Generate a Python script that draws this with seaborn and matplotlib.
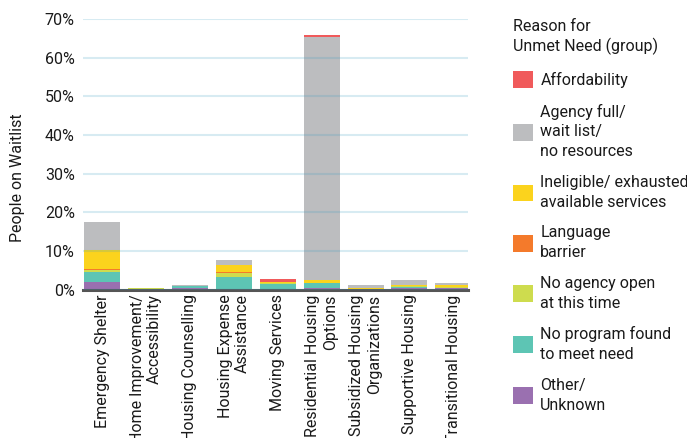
import numpy as np
import pandas as pd
import matplotlib
matplotlib.use("Agg")
import matplotlib.pyplot as plt
import seaborn as sns
from matplotlib.patches import Patch
from matplotlib.ticker import PercentFormatter

sns.set_style("white")
plt.rcParams['font.family'] = ['Roboto', 'DejaVu Sans']

# %% data (share of people on waitlist, %)
services = ['Emergency Shelter', 'Home Improvement/\nAccessibility', 'Housing Counselling',
            'Housing Expense\nAssistance', 'Moving Services', 'Residential Housing\nOptions',
            'Subsidized Housing\nOrganizations', 'Supportive Housing', 'Transitional Housing']

other_unknown   = [2.0, 0.0, 0.5, 0.1, 0.0, 0.4, 0.0, 0.35, 0.3]
no_program      = [2.5, 0.0, 0.4, 3.1, 1.5, 1.2, 0.0, 0.25, 0.2]
no_agency_open  = [0.6, 0.4, 0.0, 1.1, 0.2, 0.1, 0.0, 0.3, 0.25]
language        = [0.1, 0.0, 0.0, 0.3, 0.0, 0.0, 0.0, 0.0, 0.0]
ineligible      = [5.1, 0.0, 0.0, 1.7, 0.2, 0.7, 0.35, 0.3, 0.3]
agency_full     = [7.3, 0.0, 0.2, 1.3, 0.0, 63.0, 0.7, 1.3, 0.6]
affordability   = [0.0, 0.0, 0.0, 0.0, 0.8, 0.4, 0.0, 0.0, 0.0]

reasons = ['Affordability', 'Agency full/\nwait list/\nno resources',
           'Ineligible/ exhausted\navailable services', 'Language\nbarrier',
           'No agency open\nat this time', 'No program found\nto meet need', 'Other/\nUnknown']
colors = ['#f05a5b', '#bcbdbf', '#fbd31d', '#f47a2b', '#cedc4e', '#5dc5b4', '#9a70b0']

# stacked bottom -> top
stack = [other_unknown, no_program, no_agency_open, language, ineligible, agency_full, affordability]
stack_colors = colors[::-1]

# %% plot
fig = plt.figure(figsize=(6.87, 4.38), dpi=100)
ax = fig.add_axes([0.121, 0.339, 0.560, 0.617])

bottom = np.zeros(len(services))
for vals, col in zip(stack, stack_colors):
    vals = np.array(vals)
    sns.barplot(x=services, y=vals, bottom=bottom, color=col, width=0.82,
                saturation=1, ax=ax, linewidth=0)
    bottom += vals

ax.set_ylim(0, 70)
ax.set_xlim(-0.43, 8.33)
ax.set_yticks(range(0, 71, 10))
ax.yaxis.set_major_formatter(PercentFormatter(decimals=0))
ax.grid(axis='y', color='#3a9ec0', alpha=0.2, linewidth=1.5)
ax.set_axisbelow(False)
for s in ['top', 'right', 'left']:
    ax.spines[s].set_visible(False)
ax.spines['bottom'].set_color('#555555')
ax.spines['bottom'].set_linewidth(2.2)
ax.tick_params(axis='both', length=0, labelsize=11.5, colors='#1a1a1a')
ax.tick_params(axis='y', pad=6)
ax.set_xticks(range(len(services)))
ax.set_xticklabels(services, rotation=90, ha='center', va='top', multialignment='right')
ax.set_xlabel('')
ax.set_ylabel('People on Waitlist', fontsize=11.5, color='#1a1a1a')
ax.yaxis.set_label_coords(-0.152, 0.413)

handles = [Patch(facecolor=c, edgecolor='none') for c in colors]
leg = fig.legend(handles, reasons, title='Reason for\nUnmet Need (group)',
                 loc='upper left', bbox_to_anchor=(0.726, 0.989), frameon=False,
                 fontsize=11.5, title_fontsize=11.5, handlelength=1.25, handleheight=1.25,
                 labelspacing=0.98, handletextpad=0.45, alignment='left')
for t in leg.get_texts():
    t.set_color('#1a1a1a')
    t.set_linespacing(1.4)
leg.get_title().set_color('#1a1a1a')
leg.get_title().set_linespacing(1.3)

fig.savefig('out.png', dpi=100)
